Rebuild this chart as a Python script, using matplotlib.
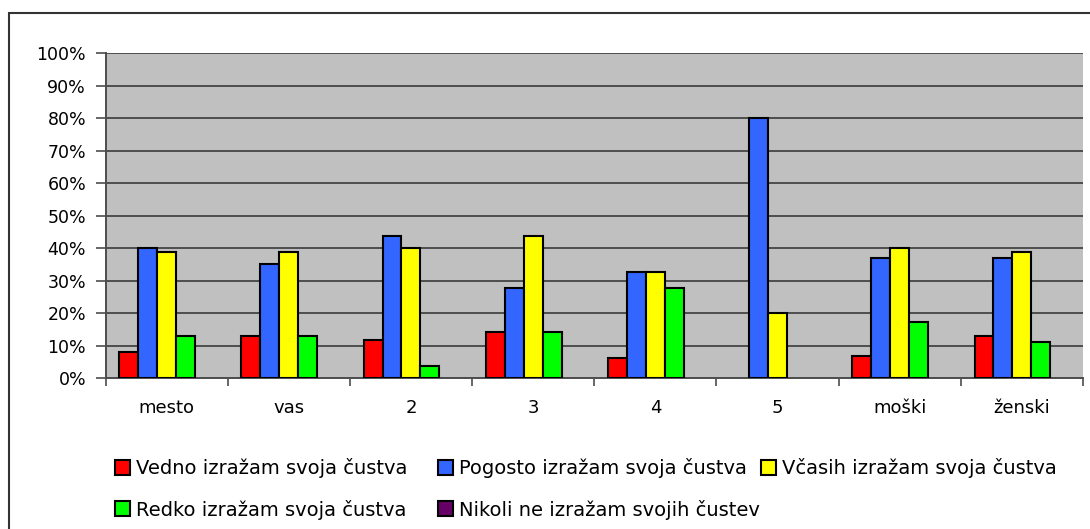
import numpy as np
import matplotlib
matplotlib.use("Agg")
import matplotlib.pyplot as plt
from matplotlib.patches import Patch, Rectangle
from matplotlib.ticker import FuncFormatter

# Data (percent)
categories = ['mesto', 'vas', '2', '3', '4', '5', 'moški', 'ženski']
series_names = ['Vedno izražam svoja čustva', 'Pogosto izražam svoja čustva',
                'Včasih izražam svoja čustva', 'Redko izražam svoja čustva',
                'Nikoli ne izražam svojih čustev']
vedno = [8.0, 12.8, 11.6, 14.2, 6.2, 0, 6.7, 12.8]
pogosto = [40.0, 35.1, 43.7, 27.8, 32.5, 80.0, 36.9, 36.9]
vcasih = [38.7, 38.7, 40.0, 43.7, 32.5, 20.0, 40.0, 38.7]
redko = [12.8, 12.8, 3.6, 14.2, 27.8, 0, 17.2, 11.0]
nikoli = [0, 0, 0, 0, 0, 0, 0, 0]
colors = ['#FF0000', '#3366FF', '#FFFF00', '#00FF00', '#660066']

plt.rcParams['font.family'] = ['DejaVu Sans']

fig = plt.figure(figsize=(10.9, 5.29), dpi=100)
fig.patch.set_facecolor('white')

# outer chart border (runs off the right/bottom edge like the original)
fig.patches.append(Rectangle((9 / 1090, -0.05), 1.1, 1 - 13 / 529 + 0.05,
                             transform=fig.transFigure, fill=False,
                             edgecolor='#333333', linewidth=1.5))

ax = fig.add_axes([105.5 / 1090, 1 - 378 / 529, (1083 - 105.5) / 1090, (378 - 53.3) / 529])
ax.set_facecolor('#C0C0C0')

x = np.arange(len(categories))
w = 0.155
all_series = [vedno, pogosto, vcasih, redko, nikoli]
for k, vals in enumerate(all_series):
    bars = ax.bar(x + (k - 2) * w, vals, w, color=colors[k], edgecolor='black',
                  linewidth=1.5, zorder=3)
    for b, v in zip(bars, vals):
        if v == 0:
            b.set_linewidth(0)

ax.set_ylim(0, 100)
ax.set_xlim(-0.5, len(categories) - 0.5)
ax.set_yticks(np.arange(0, 101, 10))
ax.yaxis.set_major_formatter(FuncFormatter(lambda v, p: f'{int(v)}%'))
ax.grid(axis='y', color='#4D4D4D', linewidth=1.4, zorder=1)
ax.set_axisbelow(True)

ax.set_xticks(x)
ax.set_xticklabels(categories)
ax.set_xticks(np.arange(-0.5, len(categories)), minor=True)
ax.tick_params(axis='x', which='major', length=0, pad=15, labelsize=13)
ax.tick_params(axis='x', which='minor', length=6, width=1.2, color='#4D4D4D', direction='out')
ax.tick_params(axis='y', length=7, width=1.2, color='#4D4D4D', pad=7, labelsize=12.5)

for side in ['top', 'right']:
    ax.spines[side].set_visible(False)
for side in ['left', 'bottom']:
    ax.spines[side].set_color('#4D4D4D')
    ax.spines[side].set_linewidth(1.4)

# legend: three equal columns, filled row by row like the original
handles = [Patch(facecolor=c, edgecolor='black', linewidth=1.5) for c in colors]
columns = [[0, 3], [1, 4], [2]]
col_x = [115, 438, 761]
for idx, cx in zip(columns, col_x):
    leg = fig.legend([handles[i] for i in idx], [series_names[i] for i in idx],
                     loc='upper left', bbox_to_anchor=(cx / 1090, 1 - 458.5 / 529),
                     ncol=1, frameon=False, fontsize=14, handlelength=0.78,
                     handleheight=0.78, handletextpad=0.3, labelspacing=1.08,
                     borderaxespad=0, borderpad=0)

fig.savefig('out.png', dpi=100)
